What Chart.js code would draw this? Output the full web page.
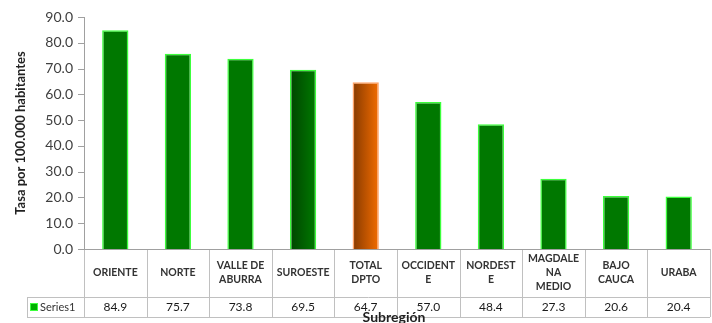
<!DOCTYPE html>
<html>
<head>
<meta charset="utf-8">
<script src="https://cdn.jsdelivr.net/npm/chart.js@4/dist/chart.umd.min.js"></script>
<style>
html,body{margin:0;padding:0;background:#fff;}
#wrap{width:712px;height:323px;position:relative;}
</style>
</head>
<body>
<div id="wrap"><canvas id="c" width="712" height="323"></canvas></div>
<script>
// ---- data ----
const categories = [
  ["ORIENTE"], ["NORTE"], ["VALLE DE","ABURRA"], ["SUROESTE"], ["TOTAL","DPTO"],
  ["OCCIDENT","E"], ["NORDEST","E"], ["MAGDALE","NA","MEDIO"], ["BAJO","CAUCA"], ["URABA"]
];
const seriesName = "Series1";
const values = [84.9, 75.7, 73.8, 69.5, 64.7, 57.0, 48.4, 27.3, 20.6, 20.4];
const yTicks = [0, 10, 20, 30, 40, 50, 60, 70, 80, 90];
const yTitle = "Tasa por 100.000 habitantes";
const xTitle = "Subregión";

// ---- styling ----
const BAR_FRAC = 0.42;
const FONT = "Lato, 'Liberation Sans', sans-serif";
function barFill(ctx) {
  const chart = ctx.chart, i = ctx.dataIndex;
  const sx = chart.scales && chart.scales.x;
  const label = categories[i] ? categories[i].join(" ") : "";
  let from = "#007800", to = "#007800";
  if (label === "TOTAL DPTO") { from = "#873a00"; to = "#f26c00"; }
  else if (label === "SUROESTE") { from = "#004400"; to = "#007a00"; }
  if (from === to || !sx || !chart.chartArea) return to;
  const cx = sx.getPixelForValue(i);
  const half = sx.width / categories.length * BAR_FRAC / 2;
  const g = chart.ctx.createLinearGradient(cx - half, 0, cx + half, 0);
  g.addColorStop(0, from); g.addColorStop(1, to);
  return g;
}
function barBorder(ctx) {
  const label = categories[ctx.dataIndex] ? categories[ctx.dataIndex].join(" ") : "";
  return label === "TOTAL DPTO" ? "#ffa368" : "#3cff3c";
}

const tablePlugin = {
  id: "dataTable",
  afterDraw(chart) {
    const c = chart.ctx, a = chart.chartArea, sx = chart.scales.x;
    const n = categories.length;
    const colW = (a.right - a.left) / n;
    const top = a.bottom, mid = a.bottom + 48, bot = a.bottom + 68;
    const legLeft = 27;
    c.save();
    c.strokeStyle = "#c0c0c0";
    c.lineWidth = 1;
    c.beginPath();
    c.moveTo(legLeft, Math.round(mid) + 0.5); c.lineTo(a.right, Math.round(mid) + 0.5);
    c.moveTo(legLeft, Math.round(bot) + 0.5); c.lineTo(a.right, Math.round(bot) + 0.5);
    c.moveTo(legLeft + 0.5, Math.round(mid)); c.lineTo(legLeft + 0.5, Math.round(bot));
    for (let i = 0; i <= n; i++) {
      const x = Math.round(a.left + i * colW) + 0.5;
      c.moveTo(x, Math.round(top)); c.lineTo(x, Math.round(bot));
    }
    c.stroke();
    // header labels
    c.fillStyle = "#333";
    c.textAlign = "center";
    c.textBaseline = "middle";
    c.font = "bold 10.5px " + FONT;
    const lh = 14;
    for (let i = 0; i < n; i++) {
      const cx = sx.getPixelForValue(i);
      const lines = categories[i];
      const y0 = (top + mid) / 2 - (lines.length - 1) * lh / 2;
      lines.forEach((t, k) => c.fillText(t, cx, y0 + k * lh));
    }
    // values
    c.font = "12px " + FONT;
    c.fillStyle = "#1a1a1a";
    for (let i = 0; i < n; i++) {
      c.fillText(values[i].toFixed(1), sx.getPixelForValue(i), (mid + bot) / 2 + 0.5);
    }
    // legend key
    c.fillStyle = "#00b000";
    c.fillRect(31, (mid + bot) / 2 - 3, 6, 6);
    c.strokeStyle = "#3cff3c";
    c.strokeRect(30.5, (mid + bot) / 2 - 3.5, 7, 7);
    c.fillStyle = "#333";
    c.textAlign = "left";
    c.font = "11px " + FONT;
    c.fillText(seriesName, 40, (mid + bot) / 2 + 0.5);
    // x title
    c.font = "bold 14px " + FONT;
    c.fillStyle = "#222";
    c.textAlign = "center";
    c.textBaseline = "alphabetic";
    c.fillText(xTitle, (a.left + a.right) / 2 - 3, 322);
    c.restore();
  }
};

new Chart(document.getElementById("c"), {
  type: "bar",
  data: {
    labels: categories.map(l => l.join(" ")),
    datasets: [{
      label: seriesName,
      data: values,
      backgroundColor: barFill,
      borderColor: barBorder,
      borderWidth: 1.5,
      categoryPercentage: 1,
      barPercentage: BAR_FRAC
    }]
  },
  options: {
    responsive: false,
    animation: false,
    layout: { padding: { top: 17, bottom: 74, right: 2, left: 0 } },
    plugins: { legend: { display: false }, tooltip: { enabled: false } },
    scales: {
      x: {
        display: false,
        grid: { display: false }
      },
      y: {
        min: 0, max: 90,
        afterFit(s) { s.width = 84; },
        afterBuildTicks(s) { s.ticks = yTicks.map(v => ({ value: v })); },
        border: { display: true, color: "#a0a0a0" },
        grid: { display: false, drawOnChartArea: false, drawTicks: true, tickLength: 6, color: "#a0a0a0" },
        ticks: {
          font: { family: FONT, size: 14 },
          color: "#404040",
          padding: 5,
          callback: v => Number(v).toFixed(1)
        },
        title: {
          display: true,
          text: yTitle,
          font: { family: FONT, size: 13, weight: "bold" },
          color: "#222",
          padding: { top: 13, bottom: 0 }
        }
      }
    }
  },
  plugins: [tablePlugin, {
    id: "axisLines",
    afterDraw(chart) {
      const c = chart.ctx, a = chart.chartArea, ys = chart.scales.y;
      c.save();
      c.strokeStyle = "#a0a0a0"; c.lineWidth = 1;
      c.beginPath();
      c.moveTo(a.left, Math.round(a.bottom) + 0.5); c.lineTo(a.right, Math.round(a.bottom) + 0.5);
      yTicks.forEach(v => {
        const y = Math.round(ys.getPixelForValue(v)) + 0.5;
        c.moveTo(a.left - 6, y); c.lineTo(a.left, y);
      });
      c.stroke();
      c.restore();
    }
  }]
});
</script>
</body>
</html>
